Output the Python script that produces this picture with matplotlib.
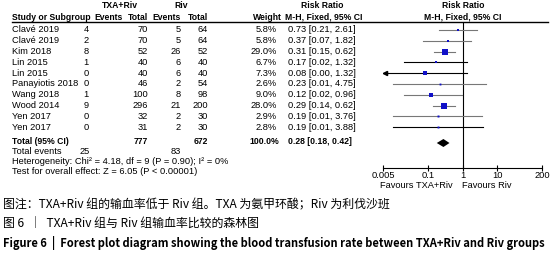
import numpy as np
import matplotlib.pyplot as plt

# study rows
studies = ["Clavé 2019", "Clavé 2019", "Kim 2018", "Lin 2015", "Lin 2015",
           "Panayiotis 2018", "Wang 2018", "Wood 2014", "Yen 2017", "Yen 2017"]
txa_events = [4, 2, 8, 1, 0, 0, 1, 9, 0, 0]
txa_total = [70, 70, 52, 40, 40, 46, 100, 296, 32, 31]
riv_events = [5, 5, 26, 6, 6, 2, 8, 21, 2, 2]
riv_total = [64, 64, 52, 40, 40, 54, 98, 200, 30, 30]
weights = [5.8, 5.8, 29.0, 6.7, 7.3, 2.6, 9.0, 28.0, 2.9, 2.8]
rr = [0.73, 0.37, 0.31, 0.17, 0.08, 0.23, 0.12, 0.29, 0.19, 0.19]
rr_lo = [0.21, 0.07, 0.15, 0.02, 0.00, 0.01, 0.02, 0.14, 0.01, 0.01]
rr_hi = [2.61, 1.82, 0.62, 1.32, 1.32, 4.75, 0.96, 0.62, 3.76, 3.88]

# pooled result
total_txa, total_riv = 777, 672
total_weight = "100.0%"
events_txa, events_riv = 25, 83
pooled = (0.28, 0.18, 0.42)

xticks = [0.005, 0.1, 1, 10, 200]
xticklabels = ["0.005", "0.1", "1", "10", "200"]

plt.rcParams['font.family'] = ['Liberation Sans', 'DejaVu Sans']

fig = plt.figure(figsize=(5.53, 2.56), dpi=100)
ax0 = fig.add_axes([0, 0, 1, 1])
ax0.set_xlim(0, 553)
ax0.set_ylim(256, 0)
ax0.axis("off")

fs = 6.7    # body text
hs = 6.2    # bold header text
row_y = 30 + 10.8 * np.arange(len(studies))
y_total, y_events, y_het, y_test = 142, 151.5, 161, 171

# headers
ax0.text(120, 5, "TXA+Riv", ha="center", va="center", fontsize=hs, fontweight="bold")
ax0.text(181, 5, "Riv", ha="center", va="center", fontsize=hs, fontweight="bold")
ax0.text(322, 5, "Risk Ratio", ha="center", va="center", fontsize=hs, fontweight="bold")
ax0.text(463, 5, "Risk Ratio", ha="center", va="center", fontsize=hs, fontweight="bold")
hdr = [(12, "left", "Study or Subgroup"), (123, "right", "Events"), (148, "right", "Total"),
       (181, "right", "Events"), (208, "right", "Total"), (282, "right", "Weight")]
for x, ha, s in hdr:
    ax0.text(x, 17, s, ha=ha, va="center", fontsize=hs, fontweight="bold")
ax0.text(324, 17, "M-H, Fixed, 95% CI", ha="center", va="center", fontsize=hs, fontweight="bold")
ax0.text(463, 17, "M-H, Fixed, 95% CI", ha="center", va="center", fontsize=hs, fontweight="bold")
ax0.plot([12, 548], [21.5, 21.5], color="black", lw=1)

for i, y in enumerate(row_y):
    ax0.text(12, y, studies[i], ha="left", va="center", fontsize=fs)
    ax0.text(89, y, str(txa_events[i]), ha="right", va="center", fontsize=fs)
    ax0.text(148, y, str(txa_total[i]), ha="right", va="center", fontsize=fs)
    ax0.text(181, y, str(riv_events[i]), ha="right", va="center", fontsize=fs)
    ax0.text(208, y, str(riv_total[i]), ha="right", va="center", fontsize=fs)
    ax0.text(277, y, f"{weights[i]:.1f}%", ha="right", va="center", fontsize=fs)
    ax0.text(288, y, f"{rr[i]:.2f} [{rr_lo[i]:.2f}, {rr_hi[i]:.2f}]",
             ha="left", va="center", fontsize=fs)

# totals
ax0.text(12, y_total, "Total (95% CI)", ha="left", va="center", fontsize=hs, fontweight="bold")
ax0.text(148, y_total, str(total_txa), ha="right", va="center", fontsize=hs, fontweight="bold")
ax0.text(208, y_total, str(total_riv), ha="right", va="center", fontsize=hs, fontweight="bold")
ax0.text(279, y_total, total_weight, ha="right", va="center", fontsize=hs, fontweight="bold")
ax0.text(288, y_total, "%.2f [%.2f, %.2f]" % pooled, ha="left", va="center",
         fontsize=hs, fontweight="bold")
ax0.text(12, y_events, "Total events", ha="left", va="center", fontsize=fs)
ax0.text(90, y_events, str(events_txa), ha="right", va="center", fontsize=fs)
ax0.text(181, y_events, str(events_riv), ha="right", va="center", fontsize=fs)
ax0.text(12, y_het, "Heterogeneity: Chi² = 4.18, df = 9 (P = 0.90); I² = 0%",
         ha="left", va="center", fontsize=fs)
ax0.text(12, y_test, "Test for overall effect: Z = 6.05 (P < 0.00001)",
         ha="left", va="center", fontsize=fs)

# forest plot
fax = fig.add_axes([383 / 553, 1 - 168 / 256, 159 / 553, (168 - 22) / 256])
fax.set_xscale("log")
fax.set_xlim(0.005, 200)
fax.set_ylim(168, 22)
fax.patch.set_alpha(0)
for s in ["top", "right", "left"]:
    fax.spines[s].set_visible(False)
fax.spines["bottom"].set_linewidth(0.8)
fax.set_yticks([])
fax.set_xticks(xticks)
fax.set_xticklabels(xticklabels, fontsize=fs)
fax.set_xticks([], minor=True)
fax.tick_params(axis="x", direction="inout", length=5, width=0.8, pad=0)
fax.axvline(1, color="black", lw=0.8)

dark_rows = [3, 4, 9]
xmin = fax.get_xlim()[0]
for i, y in enumerate(row_y):
    col = "black" if i in dark_rows else "#777777"
    lo = max(rr_lo[i], xmin)
    fax.plot([lo, rr_hi[i]], [y, y], color=col, lw=0.8)
    if rr_lo[i] < xmin:
        fax.plot(xmin * 1.15, y, marker="<", ms=3, color="black", clip_on=False)
    side = 1.15 * np.sqrt(weights[i]) * 0.72
    fax.plot(rr[i], y, marker="s", ms=side, color="#1010c8", mew=0)

est, lo, hi = pooled
fax.fill([lo, est, hi, est], [y_total + 1, y_total - 3, y_total + 1, y_total + 5],
         color="black", lw=0)

ax0.text(416, 186, "Favours TXA+Riv", ha="center", va="center", fontsize=fs)
ax0.text(487, 186, "Favours Riv", ha="center", va="center", fontsize=fs)

# captions
cjk = ['Noto Sans CJK SC', 'DejaVu Sans']
ax0.text(3, 205, "图注：TXA+Riv 组的输血率低于 Riv 组。TXA 为氨甲环酸；Riv 为利伐沙班",
         ha="left", va="center", fontsize=8.6, family=cjk)
ax0.text(3, 224, "图 6  ｜  TXA+Riv 组与 Riv 组输血率比较的森林图",
         ha="left", va="center", fontsize=8.6, family=cjk)
ax0.text(3, 243, "Figure 6  |  Forest plot diagram showing the blood transfusion rate between TXA+Riv and Riv groups",
         ha="left", va="center", fontsize=8.0, family=cjk, fontweight="bold")

fig.savefig("out.png", dpi=100)
